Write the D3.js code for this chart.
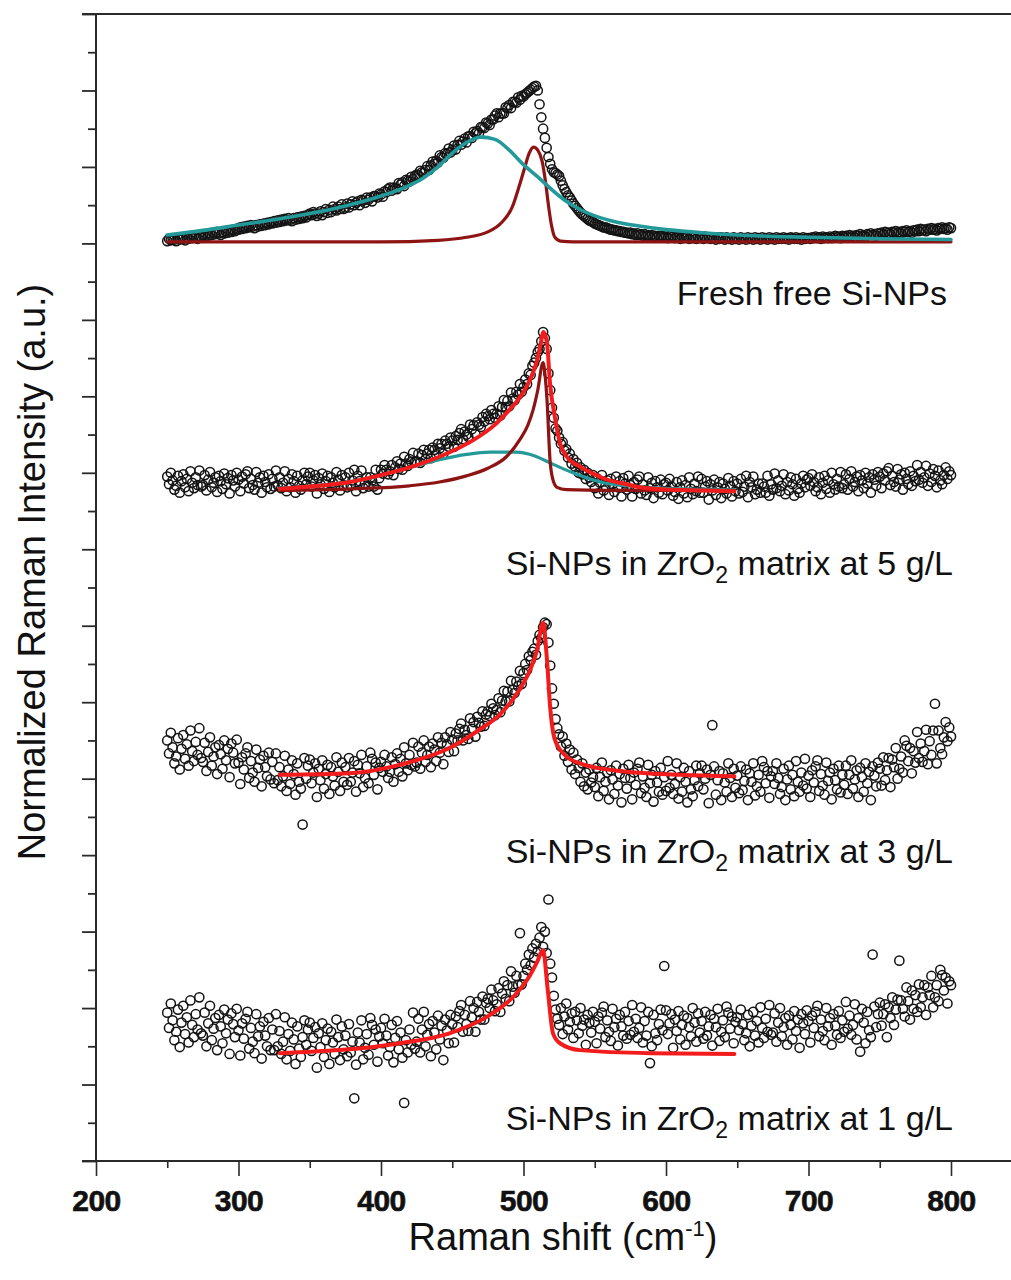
<!DOCTYPE html>
<html><head><meta charset="utf-8">
<script src="https://cdn.jsdelivr.net/npm/d3@7"></script>
<style>
html,body{margin:0;padding:0;background:#fff;}
svg{display:block;font-family:"Liberation Sans",Arial,sans-serif;}
</style></head>
<body><svg id="chart" width="1011" height="1280"></svg>
<script>
// Sampling grid of the measured spectra (Raman shift, cm-1)
const shiftStart = 250, shiftStep = 1.25;

const xTicks = [200, 300, 400, 500, 600, 700, 800];
const xMinorTicks = [250, 350, 450, 550, 650, 750];
const yTicks = [0,1,2,3,4,5,6,7,8,9,10,11,12,13,14,15];
const yMinorTicks = [0.5,1.5,2.5,3.5,4.5,5.5,6.5,7.5,8.5,9.5,10.5,11.5,12.5,13.5,14.5];

// Measured intensities (stacked, a.u.), one value per grid step from 250 to 800 cm-1
const freshPts = [
 12.03,12.06,12.04,12.07,12.05,12.03,12.07,12.05,12.08,12.06,12.04,12.08,12.06,12.09,12.07,12.10,12.08,12.06,12.10,12.08,
 12.11,12.09,12.12,12.10,12.13,12.11,12.14,12.12,12.15,12.13,12.11,12.15,12.13,12.16,12.14,12.17,12.15,12.18,12.16,12.19,
 12.18,12.21,12.19,12.22,12.20,12.23,12.21,12.24,12.22,12.20,12.24,12.22,12.25,12.23,12.26,12.24,12.27,12.25,12.28,12.26,
 12.29,12.27,12.30,12.28,12.31,12.29,12.32,12.30,12.33,12.31,12.29,12.33,12.31,12.34,12.32,12.35,12.33,12.36,12.34,12.37,
 12.39,12.37,12.41,12.39,12.36,12.39,12.42,12.37,12.41,12.45,12.40,12.44,12.41,12.48,12.45,12.43,12.48,12.45,12.51,12.45,
 12.47,12.52,12.47,12.51,12.55,12.50,12.53,12.55,12.50,12.57,12.56,12.53,12.60,12.57,12.60,12.55,12.62,12.62,12.60,12.65,
 12.64,12.61,12.68,12.67,12.71,12.73,12.69,12.73,12.72,12.71,12.79,12.77,12.80,12.75,12.83,12.82,12.81,12.87,12.84,12.88,
 12.90,12.89,12.95,12.93,12.92,12.96,13.01,12.96,13.02,13.07,13.04,13.08,13.06,13.15,13.13,13.12,13.18,13.17,13.24,13.19,
 13.22,13.28,13.23,13.29,13.34,13.29,13.33,13.37,13.32,13.40,13.40,13.38,13.46,13.44,13.47,13.44,13.52,13.52,13.51,13.58,
 13.57,13.55,13.62,13.62,13.67,13.70,13.65,13.70,13.70,13.70,13.78,13.77,13.81,13.77,13.85,13.85,13.84,13.91,13.88,13.93,
 13.92,13.95,13.97,13.99,14.01,14.03,14.05,14.06,14.00,13.82,13.65,13.50,13.38,13.25,13.13,13.04,12.97,12.93,12.92,12.90,
 12.88,12.82,12.76,12.71,12.67,12.63,12.60,12.56,12.52,12.49,12.46,12.43,12.40,12.38,12.36,12.34,12.32,12.30,12.29,12.28,
 12.26,12.25,12.24,12.23,12.22,12.21,12.21,12.20,12.19,12.18,12.18,12.17,12.17,12.16,12.16,12.15,12.15,12.14,12.14,12.13,
 12.14,12.12,12.13,12.11,12.13,12.11,12.12,12.10,12.12,12.10,12.11,12.09,12.11,12.09,12.10,12.08,12.10,12.09,12.10,12.08,
 12.09,12.07,12.10,12.08,12.09,12.07,12.09,12.08,12.06,12.09,12.07,12.09,12.08,12.06,12.09,12.07,12.08,12.06,12.08,12.07,
 12.08,12.06,12.09,12.07,12.08,12.06,12.08,12.07,12.05,12.08,12.06,12.08,12.07,12.05,12.08,12.06,12.07,12.05,12.08,12.06,
 12.07,12.05,12.08,12.06,12.07,12.05,12.08,12.06,12.07,12.05,12.08,12.06,12.07,12.05,12.08,12.06,12.07,12.05,12.08,12.06,
 12.07,12.05,12.08,12.06,12.07,12.06,12.08,12.06,12.07,12.05,12.08,12.07,12.06,12.08,12.06,12.07,12.05,12.08,12.06,12.07,
 12.07,12.06,12.08,12.07,12.09,12.07,12.08,12.06,12.09,12.07,12.08,12.07,12.09,12.07,12.08,12.10,12.08,12.09,12.07,12.10,
 12.08,12.10,12.09,12.11,12.09,12.10,12.08,12.11,12.10,12.12,12.10,12.11,12.09,12.12,12.11,12.13,12.11,12.12,12.10,12.13,
 12.12,12.14,12.12,12.15,12.13,12.14,12.12,12.15,12.14,12.16,12.14,12.15,12.13,12.16,12.15,12.17,12.15,12.16,12.14,12.17,
 12.16,12.18,12.16,12.19,12.17,12.18,12.16,12.19,12.18,12.20,12.18,12.19,12.17,12.20,12.19,12.21,12.19,12.20,12.18,12.21,
 12.20
];
const pts5 = [
 8.95,8.85,9.00,8.90,8.78,8.83,8.96,8.74,8.89,8.98,8.81,8.92,8.76,9.02,8.87,8.80,8.94,8.84,9.03,8.82,
 8.84,8.97,8.77,8.91,9.01,8.81,8.87,8.94,8.75,8.96,8.89,8.79,8.99,8.85,8.93,8.73,8.97,8.90,8.82,9.00,
 8.91,8.76,8.95,8.86,8.98,9.02,8.80,8.92,8.84,8.78,9.01,8.87,8.94,8.74,8.96,8.88,8.81,8.98,8.79,8.92,
 8.82,9.03,8.84,8.94,8.80,8.87,9.02,8.76,8.92,8.81,8.98,8.89,8.74,8.96,8.83,8.78,8.90,9.00,8.85,8.95,
 9.00,8.82,8.90,8.97,8.73,8.93,8.85,8.99,8.79,8.89,8.96,8.75,8.94,8.87,8.81,9.01,8.91,8.77,8.97,8.84,
 8.94,8.81,9.00,8.83,8.90,9.04,8.76,8.96,8.89,9.03,8.80,8.86,8.94,8.82,8.94,8.90,8.82,9.04,8.78,8.93,
 9.04,8.99,9.10,9.04,8.98,9.02,9.10,8.97,9.07,9.15,9.05,9.12,9.04,9.21,9.12,9.09,9.18,9.14,9.26,9.14,
 9.15,9.25,9.13,9.23,9.30,9.18,9.25,9.30,9.19,9.33,9.30,9.24,9.38,9.32,9.38,9.25,9.42,9.38,9.34,9.46,
 9.42,9.34,9.48,9.43,9.52,9.57,9.44,9.54,9.50,9.47,9.63,9.57,9.62,9.51,9.66,9.63,9.60,9.73,9.67,9.77,
 9.74,9.70,9.82,9.77,9.72,9.77,9.87,9.75,9.86,9.95,9.86,9.94,9.87,10.05,9.97,9.95,10.06,10.02,10.16,10.06,
 10.12,10.22,10.16,10.30,10.28,10.40,10.44,10.50,10.58,10.62,10.72,10.84,10.76,10.62,10.30,10.08,9.85,9.72,9.58,9.55,
 9.46,9.38,9.40,9.29,9.31,9.20,9.25,9.12,9.18,9.08,9.13,9.00,9.07,8.98,9.04,8.92,9.00,8.94,8.88,8.97,
 8.80,8.93,8.73,8.87,8.97,8.77,8.83,8.90,8.71,8.92,8.85,8.75,8.95,8.81,8.89,8.69,8.93,8.86,8.78,8.96,
 8.84,8.69,8.88,8.79,8.91,8.95,8.73,8.85,8.77,8.71,8.94,8.80,8.87,8.67,8.89,8.81,8.74,8.91,8.72,8.85,
 8.87,8.77,8.92,8.82,8.70,8.75,8.88,8.66,8.81,8.90,8.73,8.84,8.68,8.94,8.79,8.72,8.86,8.76,8.95,8.74,
 8.92,8.74,8.82,8.89,8.65,8.85,8.77,8.91,8.71,8.81,8.88,8.67,8.86,8.79,8.73,8.93,8.83,8.69,8.89,8.76,
 8.86,8.73,8.92,8.75,8.82,8.96,8.68,8.88,8.81,8.95,8.72,8.78,8.86,8.74,8.86,8.82,8.74,8.96,8.70,8.85,
 8.78,8.99,8.80,8.90,8.76,8.83,8.98,8.72,8.88,8.77,8.94,8.85,8.70,8.92,8.79,8.74,8.86,8.96,8.81,8.91,
 8.93,8.83,8.98,8.88,8.76,8.81,8.94,8.72,8.87,8.96,8.79,8.90,8.74,9.00,8.85,8.78,8.92,8.82,9.01,8.80,
 8.85,8.98,8.78,8.92,9.02,8.82,8.88,8.95,8.76,8.97,8.90,8.80,9.00,8.86,8.94,8.74,8.98,8.91,8.83,9.01,
 8.95,8.80,8.99,8.90,9.02,9.06,8.84,8.96,8.88,8.82,9.05,8.91,8.98,8.78,9.00,8.92,8.85,9.02,8.83,8.96,
 8.89,9.10,8.91,9.01,8.87,8.94,9.09,8.83,8.99,8.88,9.05,8.96,8.81,9.03,8.90,8.85,8.97,9.07,8.92,9.02,
 8.97
];
const pts3 = [
 5.50,5.33,5.60,5.41,5.20,5.29,5.53,5.12,5.39,5.57,5.26,5.45,5.17,5.63,5.36,5.23,5.48,5.31,5.66,5.27,
 5.22,5.47,5.10,5.35,5.54,5.17,5.29,5.41,5.06,5.44,5.32,5.13,5.50,5.24,5.39,5.02,5.46,5.34,5.20,5.51,
 5.21,4.93,5.28,5.12,5.33,5.41,5.01,5.23,5.08,4.96,5.38,5.14,5.25,4.90,5.30,5.15,5.03,5.34,4.99,5.22,
 4.94,5.33,4.98,5.15,4.90,5.03,5.30,4.84,5.12,4.93,5.24,5.06,4.79,5.20,4.96,4.87,4.40,5.27,5.00,5.17,
 5.25,4.94,5.08,5.20,4.76,5.13,4.98,5.24,4.87,5.06,5.18,4.80,5.15,5.03,4.91,5.28,5.09,4.84,5.21,4.96,
 5.15,4.92,5.27,4.96,5.08,5.23,4.83,5.18,5.07,5.31,4.89,5.01,5.16,4.94,5.34,5.26,5.05,5.21,4.86,5.14,
 5.22,5.09,5.31,5.16,5.01,5.09,5.28,4.96,5.19,5.33,5.09,5.26,5.03,5.41,5.20,5.11,5.31,5.18,5.47,5.16,
 5.21,5.42,5.13,5.34,5.50,5.22,5.31,5.42,5.15,5.46,5.38,5.23,5.54,5.34,5.47,5.19,5.54,5.45,5.35,5.61,
 5.51,5.36,5.59,5.50,5.65,5.72,5.50,5.64,5.57,5.52,5.79,5.65,5.74,5.55,5.81,5.73,5.68,5.88,5.69,5.84,
 5.88,5.82,5.98,5.92,5.83,5.90,6.05,5.87,6.02,6.15,6.01,6.14,6.01,6.28,6.16,6.12,6.27,6.21,6.41,6.24,
 6.38,6.50,6.42,6.60,6.55,6.66,6.70,6.62,6.80,6.88,6.84,6.98,7.04,7.02,6.78,6.48,6.18,5.98,5.78,5.66,
 5.58,5.42,5.55,5.30,5.46,5.22,5.38,5.12,5.34,5.06,5.25,5.14,4.96,5.20,4.90,5.08,4.86,5.12,4.95,5.02,
 4.89,5.14,4.77,5.02,5.21,4.84,4.96,5.08,4.73,5.11,4.99,4.80,5.17,4.91,5.06,4.69,5.13,5.01,4.87,5.18,
 5.01,4.73,5.08,4.92,5.13,5.21,4.81,5.03,4.88,4.76,5.18,4.94,5.05,4.70,5.10,4.95,4.83,5.14,4.79,5.02,
 4.84,5.23,4.88,5.05,4.80,4.93,5.20,4.74,5.02,4.83,5.14,4.96,4.69,5.10,4.86,4.77,4.98,5.17,4.90,5.07,
 5.17,4.86,5.00,5.12,4.68,5.05,5.70,5.16,4.79,4.98,5.10,4.72,5.07,4.95,4.83,5.20,5.01,4.76,5.13,4.88,
 5.04,4.81,5.16,4.85,4.97,5.12,4.72,5.07,4.96,5.20,4.78,4.90,5.05,4.83,5.23,5.15,4.94,5.10,4.75,5.03,
 5.10,4.93,5.20,5.01,4.80,4.89,5.13,4.72,4.99,5.17,4.86,5.05,4.77,5.23,4.96,4.83,5.08,4.91,5.26,4.87,
 5.04,4.76,5.11,4.95,5.16,5.24,4.84,5.06,4.91,4.79,5.21,4.97,5.08,4.73,5.13,4.98,4.86,5.17,4.82,5.05,
 4.92,5.17,4.80,5.05,5.24,4.87,4.99,5.11,4.76,5.14,5.02,4.83,5.20,4.94,5.09,4.72,5.16,5.04,4.90,5.21,
 5.13,4.91,5.28,4.98,5.11,5.27,4.89,5.25,5.15,5.40,5.00,5.13,5.29,5.08,5.50,5.43,5.23,5.40,5.07,5.36,
 5.21,5.61,5.27,5.46,5.22,5.36,5.64,5.19,5.49,5.31,5.63,5.98,5.20,5.63,5.40,5.32,5.54,5.74,5.49,5.67,
 5.55
];
const pts1 = [
 1.94,1.74,2.06,1.84,1.58,1.69,1.98,1.49,1.81,2.03,1.66,1.88,1.55,2.10,1.78,1.62,1.92,1.72,2.14,1.67,
 1.64,1.94,1.50,1.80,2.03,1.58,1.73,1.87,1.45,1.91,1.76,1.54,1.98,1.67,1.85,1.40,1.93,1.79,1.62,1.99,
 1.71,1.38,1.80,1.60,1.86,1.95,1.47,1.74,1.56,1.41,1.92,1.63,1.76,1.34,1.82,1.64,1.50,1.87,1.45,1.72,
 1.45,1.92,1.50,1.70,1.40,1.56,1.88,1.33,1.66,1.44,1.81,1.59,1.27,1.76,1.47,1.36,1.62,1.84,1.52,1.72,
 1.81,1.44,1.61,1.75,1.22,1.67,1.49,1.80,1.36,1.58,1.73,1.27,1.69,1.55,1.40,1.85,1.62,1.32,1.76,1.46,
 1.64,1.37,1.79,1.42,1.56,0.82,1.26,1.68,1.55,1.84,1.33,1.48,1.66,1.39,1.87,1.78,1.52,1.72,1.30,1.63,
 1.74,1.54,1.86,1.64,1.38,1.49,1.78,1.29,1.61,1.83,1.46,1.68,1.35,0.76,1.58,1.42,1.72,1.52,1.94,1.47,
 1.56,1.86,1.42,1.72,1.95,1.50,1.65,1.79,1.37,1.83,1.68,1.46,1.90,1.59,1.77,1.32,1.85,1.71,1.54,1.91,
 1.79,1.55,1.89,1.75,1.96,2.04,1.69,1.91,1.79,1.70,2.09,1.88,2.00,1.69,2.08,1.95,1.85,2.15,1.85,2.07,
 2.12,2.00,2.24,2.10,1.96,2.05,2.26,1.95,2.19,2.35,2.12,2.30,2.09,2.48,2.28,2.20,2.42,2.30,2.98,2.31,
 2.42,2.58,2.50,2.70,2.56,2.78,2.66,2.84,2.74,2.92,3.06,2.80,3.00,2.72,3.42,2.58,2.40,2.16,1.98,1.86,
 1.78,2.00,1.66,1.89,2.06,1.72,1.82,1.93,1.61,1.95,1.84,1.67,2.00,1.77,1.85,1.52,1.91,1.81,1.68,1.95,
 1.82,1.54,1.89,1.73,1.94,2.02,1.62,1.84,1.69,1.57,1.99,1.75,1.86,1.51,1.91,1.76,1.64,1.95,1.60,1.83,
 1.65,2.04,1.69,1.86,1.61,1.74,2.01,1.55,1.83,1.64,1.95,1.28,1.50,1.91,1.67,1.58,1.79,1.98,1.71,2.55,
 1.97,1.66,1.80,1.92,1.48,1.85,1.70,1.96,1.59,1.78,1.90,1.52,1.87,1.75,1.63,2.00,1.81,1.56,1.93,1.68,
 1.83,1.60,1.95,1.64,1.76,1.91,1.51,1.86,1.75,1.99,1.57,1.69,1.84,1.62,2.02,1.94,1.73,1.89,1.54,1.82,
 1.88,1.71,1.98,1.79,1.58,1.67,1.91,1.50,1.77,1.95,1.64,1.83,1.55,2.01,1.74,1.61,1.86,1.69,2.04,1.65,
 1.68,1.93,1.56,1.81,2.00,1.63,1.75,1.87,1.52,1.90,1.78,1.59,1.96,1.70,1.85,1.48,1.92,1.80,1.66,1.97,
 1.83,1.55,1.90,1.74,1.95,2.03,1.63,1.85,1.70,1.58,2.00,1.76,1.87,1.52,1.92,1.77,1.65,1.96,1.61,1.84,
 1.69,2.08,1.73,1.90,1.65,1.78,2.05,1.59,1.87,1.43,1.99,1.81,1.54,1.95,1.71,1.62,2.70,2.02,1.75,1.92,
 2.07,1.77,1.92,2.05,1.62,2.01,1.87,2.14,1.78,1.98,2.11,2.62,2.10,1.99,1.89,2.27,2.09,1.85,2.23,1.99,
 2.17,1.95,2.31,2.01,2.14,2.30,1.91,2.27,2.17,2.42,2.01,2.14,2.30,2.09,2.50,2.43,2.23,2.40,2.06,2.35,
 2.30
];

// Fitted components, [shift, intensity]
const freshBroad = [[250,12.11],[275,12.17],[300,12.24],[325,12.31],[350,12.39],[375,12.49],[400,12.62],[420,12.76],[430,12.86],[440,13.00],[450,13.18],[460,13.32],[470,13.39],[480,13.36],[490,13.22],[500,13.03],[510,12.87],[520,12.70],[530,12.55],[540,12.44],[550,12.36],[565,12.28],[580,12.23],[600,12.18],[625,12.14],[650,12.11],[700,12.08],[750,12.06],[800,12.05]];
const freshSharp = [[250,12.02],[400,12.02],[440,12.04],[460,12.08],[475,12.15],[485,12.28],[492,12.47],[497,12.75],[501,13.00],[504,13.18],[507,13.26],[510,13.22],[513,13.08],[515.5,12.80],[517.5,12.50],[519.5,12.25],[522,12.08],[526,12.03],[535,12.02],[800,12.02]];
const fit5Broad = [[329,8.80],[360,8.84],[392,8.93],[420,9.07],[441,9.17],[460,9.24],[476.5,9.27],[495,9.27],[508,9.22],[518.6,9.13],[534.7,9.00],[554,8.88],[580,8.82],[610,8.79],[648,8.78]];
const fit5Sharp = [[329,8.77],[380,8.79],[420,8.83],[441,8.88],[460,8.96],[475,9.06],[488,9.21],[498,9.45],[503,9.62],[506.7,9.82],[510,10.08],[513.7,10.44],[515,10.30],[516.5,9.95],[518.6,9.17],[520.5,8.92],[523.5,8.81],[530,8.78],[560,8.77],[648,8.77]];
const fit5Total = [[329,8.79],[350,8.82],[375,8.87],[400,8.97],[420,9.07],[441,9.21],[465,9.43],[480,9.63],[488,9.78],[496,9.95],[502,10.12],[506,10.28],[509.5,10.47],[512,10.68],[514,10.84],[516.5,10.70],[518.6,10.17],[522,9.73],[525.6,9.39],[530,9.22],[539.6,9.08],[550,8.98],[558.6,8.91],[570,8.86],[581.8,8.81],[600,8.78],[625,8.77],[648,8.76]];
const fit3Total = [[329,5.05],[378,5.07],[413,5.18],[448,5.40],[469,5.64],[483,5.83],[497,6.16],[504.6,6.42],[509.5,6.68],[513.7,7.04],[516.5,6.55],[518.6,5.96],[522,5.51],[529,5.31],[539.6,5.20],[567.7,5.10],[610,5.05],[648,5.03]];
const fit1Total = [[329,1.41],[413,1.54],[448,1.67],[476.5,1.91],[494,2.17],[504.6,2.43],[509.5,2.60],[513.7,2.76],[517,2.24],[520.7,1.67],[525.6,1.54],[539.6,1.45],[588.8,1.41],[648,1.40]];

const sampleLabels = ["Fresh free Si-NPs", "5 g/L", "3 g/L", "1 g/L"];

const svg = d3.select("#chart");
const x = d3.scaleLinear().domain([200, 800]).range([96, 951]);
const y = d3.scaleLinear().domain([0, 15]).range([1161, 14]);
const ink = "#2a2a2a";

// frame: top rule, bottom rule and left axis line
svg.append("line").attr("x1", 82).attr("x2", 1011).attr("y1", y(15)).attr("y2", y(15)).attr("stroke", ink).attr("stroke-width", 2);
svg.append("line").attr("x1", 82).attr("x2", 1011).attr("y1", y(0)).attr("y2", y(0)).attr("stroke", ink).attr("stroke-width", 2);
svg.append("line").attr("x1", x(200)).attr("x2", x(200)).attr("y1", y(15)).attr("y2", y(0)).attr("stroke", ink).attr("stroke-width", 2);

// x axis
const gx = svg.append("g").attr("transform", `translate(0,${y(0)})`)
  .call(d3.axisBottom(x).tickValues(xTicks).tickSize(15).tickSizeOuter(0).tickFormat(d3.format("d")));
gx.select(".domain").remove();
gx.selectAll(".tick line").attr("stroke", ink).attr("stroke-width", 1.6);
gx.selectAll(".tick text").attr("y", 50).attr("dy", 0).attr("fill", "#111")
  .attr("stroke", "#111").attr("stroke-width", 0.6)
  .style("font-size", "30px").style("font-weight", "bold").style("letter-spacing", "-0.5px")
  .style("font-family", '"Liberation Sans", Arial, sans-serif');
const gxm = svg.append("g").attr("transform", `translate(0,${y(0)})`)
  .call(d3.axisBottom(x).tickValues(xMinorTicks).tickSize(7).tickFormat(""));
gxm.select(".domain").remove();
gxm.selectAll(".tick line").attr("stroke", ink).attr("stroke-width", 1.6);

// y axis (no labels)
const gy = svg.append("g").attr("transform", `translate(${x(200)},0)`)
  .call(d3.axisLeft(y).tickValues(yTicks).tickSize(14).tickFormat(""));
gy.select(".domain").remove();
gy.selectAll(".tick line").attr("stroke", ink).attr("stroke-width", 1.8);
const gym = svg.append("g").attr("transform", `translate(${x(200)},0)`)
  .call(d3.axisLeft(y).tickValues(yMinorTicks).tickSize(8).tickFormat(""));
gym.select(".domain").remove();
gym.selectAll(".tick line").attr("stroke", ink).attr("stroke-width", 1.8);

// spectra
const line = d3.line().x(d => x(d[0])).y(d => y(d[1])).curve(d3.curveMonotoneX);
function drawPoints(vals) {
  svg.append("g").selectAll("circle").data(vals).join("circle")
    .attr("cx", (d, i) => x(shiftStart + i * shiftStep))
    .attr("cy", d => y(d))
    .attr("r", 4.6)
    .attr("fill", "none").attr("stroke", "#141414").attr("stroke-width", 1.5);
}
function drawFit(pts, color, w) {
  svg.append("path").datum(pts).attr("d", line)
    .attr("fill", "none").attr("stroke", color).attr("stroke-width", w)
    .attr("stroke-linejoin", "round").attr("stroke-linecap", "round");
}
const teal = "#23999a", maroon = "#8e1414", red = "#f21c1c";

drawPoints(freshPts);
drawFit(freshSharp, maroon, 3.2);
drawFit(freshBroad, teal, 3.6);

drawPoints(pts5);
drawFit(fit5Broad, teal, 3.2);
drawFit(fit5Sharp, maroon, 3.2);
drawFit(fit5Total, red, 4);

drawPoints(pts3);
drawFit(fit3Total, red, 4);

drawPoints(pts1);
drawFit(fit1Total, red, 4);

// sample labels
const labelFont = 34;
function matrixLabel(conc, yv) {
  const t = svg.append("text").attr("x", 953).attr("y", y(yv)).attr("text-anchor", "end")
    .style("font-size", labelFont + "px").attr("fill", "#111");
  t.append("tspan").text("Si-NPs in ZrO");
  t.append("tspan").text("2").style("font-size", "23px").attr("dy", 8);
  t.append("tspan").text(" matrix at " + conc).attr("dy", -8);
}
svg.append("text").attr("x", 947).attr("y", y(11.19)).attr("text-anchor", "end")
  .style("font-size", labelFont + "px").attr("fill", "#111").text(sampleLabels[0]);
matrixLabel(sampleLabels[1], 7.66);
matrixLabel(sampleLabels[2], 3.9);
matrixLabel(sampleLabels[3], 0.4);

// axis titles
const xt = svg.append("text").attr("x", 563).attr("y", 1250).attr("text-anchor", "middle")
  .style("font-size", "38px").attr("fill", "#111");
xt.append("tspan").text("Raman shift (cm");
xt.append("tspan").text("-1").style("font-size", "22px").attr("dy", -14);
xt.append("tspan").text(")").attr("dy", 14);

svg.append("text").attr("transform", "translate(45,572) rotate(-90)").attr("text-anchor", "middle")
  .style("font-size", "38px").attr("fill", "#111").text("Normalized Raman Intensity (a.u.)");
</script>
</body></html>
